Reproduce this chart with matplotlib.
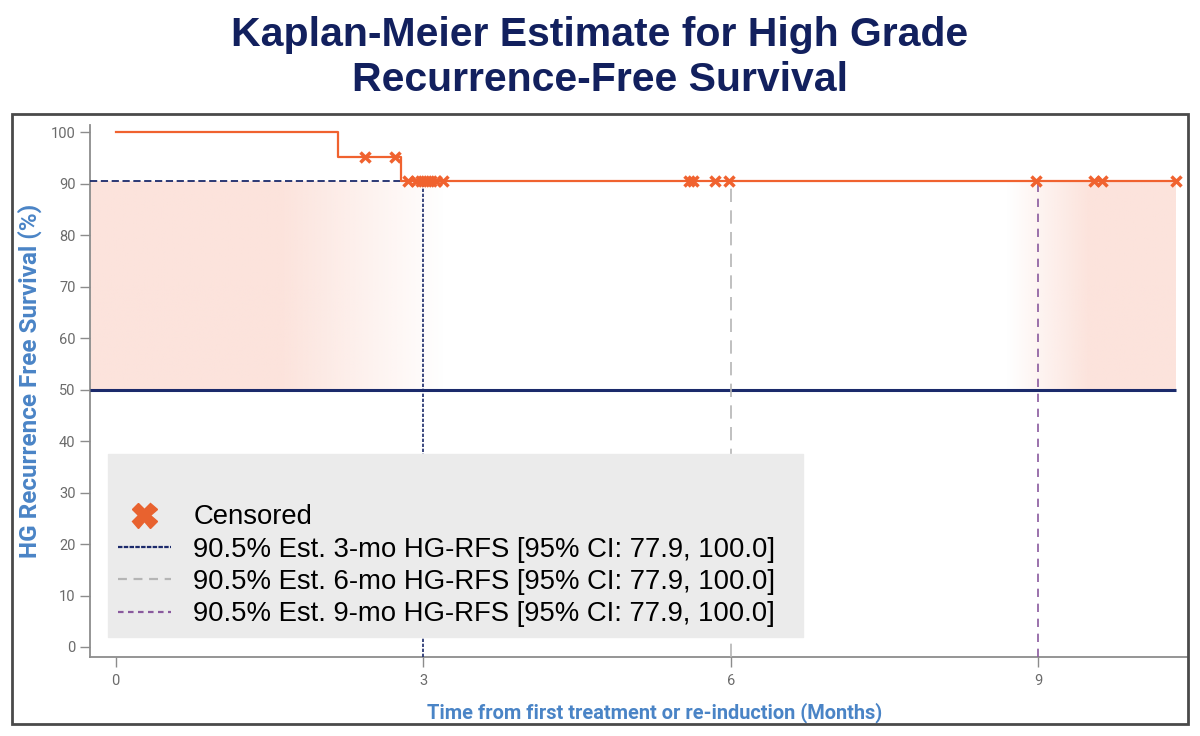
import numpy as np
import matplotlib
matplotlib.use("Agg")
import matplotlib.pyplot as plt
from matplotlib.lines import Line2D
from matplotlib.patches import Rectangle

# Kaplan-Meier step curve (months, % HG recurrence-free)
step_t = [0.0, 2.17, 2.78, 10.34]
step_s = [100.0, 95.2, 90.5, 90.5]

# censored observations
cens_t = [2.43, 2.73, 2.85, 2.93, 2.98, 3.03, 3.08, 3.13, 3.19,
          5.59, 5.63, 5.85, 5.98, 8.98, 9.54, 9.62, 10.34]
cens_s = [95.2, 95.2] + [90.5] * 15

est_months = [3, 6, 9]
est_value = 90.5
est_labels = ["90.5% Est. 3-mo HG-RFS [95% CI: 77.9, 100.0]",
              "90.5% Est. 6-mo HG-RFS [95% CI: 77.9, 100.0]",
              "90.5% Est. 9-mo HG-RFS [95% CI: 77.9, 100.0]"]
median_line = 50

orange = "#f0622f"
navy = "#1b2a6b"
gray_ref = "#b5b5b5"
purple = "#8a5a9e"
label_blue = "#4a84c6"
tick_gray = "#6b6b6b"
narrow = "Roboto"

fig = plt.figure(figsize=(12, 7.36), dpi=100)
ax = fig.add_axes([0.075, 0.1073, 0.914, 0.7227])
xmin, xmax = -0.25, 10.45
ax.set_xlim(xmin, xmax)
ax.set_ylim(-1.95, 101.4)

# pink shaded bands that fade towards the 3-6-9 region
nx = 600
xs = np.linspace(xmin, 10.34, nx)
alpha = np.interp(xs, [xmin, 1.6, 3.2, 8.7, 9.5, 10.34], [1, 1, 0, 0, 1, 1])
img = np.zeros((1, nx, 4))
img[..., :3] = np.array([252, 227, 220]) / 255
img[..., 3] = alpha
ax.imshow(img, extent=(xmin, 10.34, median_line, est_value), aspect="auto",
          interpolation="bilinear", zorder=1)

ax.hlines(median_line, xmin, 10.34, color=navy, lw=2.2, zorder=3)

# estimate reference lines
ax.hlines(est_value, xmin, est_months[0], color=navy, lw=1.3, linestyles=(0, (4, 2)), zorder=3)
ax.vlines(est_months[0], -1.95, est_value, color=navy, lw=1.2, linestyles=(0, (2, 1)), zorder=3)
ax.vlines(est_months[1], -1.95, est_value, color=gray_ref, lw=1.2, linestyles=(0, (8, 5)), zorder=3)
ax.vlines(est_months[2], -1.95, est_value, color=purple, lw=1.2, linestyles=(0, (5, 4)), zorder=3)

ax.step(step_t, step_s, where="post", color=orange, lw=1.6, zorder=4)
ax.plot(cens_t, cens_s, ls="none", marker="x", ms=7.5, mew=2.5, color=orange, zorder=5)

ax.set_xticks([0, 3, 6, 9])
ax.set_yticks(range(0, 101, 10))
for s in ["top", "right"]:
    ax.spines[s].set_visible(False)
for s in ["left", "bottom"]:
    ax.spines[s].set_color("#8c8c8c")
    ax.spines[s].set_linewidth(1.3)
ax.tick_params(colors="#8c8c8c", labelcolor=tick_gray, labelsize=10.5, length=7, width=1)
ax.tick_params(axis="x", pad=5)
for t in ax.get_xticklabels() + ax.get_yticklabels():
    t.set_family(narrow)

lab_font = dict(family=narrow, weight="bold", color=label_blue)
ax.set_ylabel("HG Recurrence Free Survival (%)", fontsize=17.5, **lab_font)
ax.yaxis.set_label_coords(-0.0437, 0.52)
ax.set_xlabel("Time from first treatment or re-induction (Months)", fontsize=14.4, **lab_font)
ax.xaxis.set_label_coords(0.515, -0.085)

handles = [Line2D([], [], ls="none", marker="X", ms=18, color="#e8622f", mec="#e8622f"),
           Line2D([], [], color=navy, lw=1.6, ls=(0, (2, 0.6))),
           Line2D([], [], color=gray_ref, lw=1.6, ls=(0, (4, 3))),
           Line2D([], [], color=purple, lw=1.6, ls=(0, (2.5, 2)))]
leg = ax.legend(handles, ["Censored"] + est_labels, loc="lower left", mode="expand",
                bbox_to_anchor=(0.0164, 0.0376, 0.6335, 0.3), borderaxespad=0, title=" ",
                prop=dict(family="Liberation Sans", size=19.8), title_fontsize=26,
                frameon=True, fancybox=False, facecolor="#ebebeb", edgecolor="#ebebeb",
                framealpha=1, handlelength=1.95, handletextpad=0.8, labelspacing=0.23,
                borderpad=0.35)
leg.set_zorder(6)

# outer frame
fig.patches.append(Rectangle((0.01, 0.0163), 0.98, 0.8286, transform=fig.transFigure,
                             fill=False, edgecolor="#4a4a4a", lw=2))

fig.text(0.5, 0.922, "Kaplan-Meier Estimate for High Grade\nRecurrence-Free Survival",
         ha="center", va="center", fontsize=29.5, fontweight="bold",
         family="Liberation Sans", color="#12205e", linespacing=1.26)

fig.savefig("out.png", dpi=100)
